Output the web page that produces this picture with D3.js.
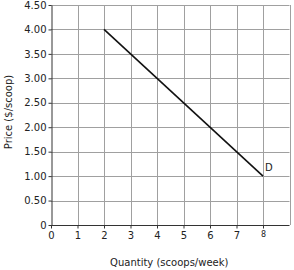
<!DOCTYPE html>
<html>
<head>
<meta charset="utf-8">
<script src="https://cdn.jsdelivr.net/npm/d3@7"></script>
<style>
body { margin: 0; background: #fff; }
text { font-family: "DejaVu Sans", sans-serif; fill: #222; }
.grid line { stroke: #a0a0a0; stroke-width: 1; }
.axis path, .axis line { stroke: #333; }
</style>
</head>
<body>
<div id="chart"></div>
<script>
// demand curve D
var qty = [2, 8];
var price = [4, 1];
var xTicks = [0, 1, 2, 3, 4, 5, 6, 7, 8];
var yTicks = [0, 0.5, 1, 1.5, 2, 2.5, 3, 3.5, 4, 4.5];
var yLabels = ["0", "0.50", "1.00", "1.50", "2.00", "2.50", "3.00", "3.50", "4.00", "4.50"];

var width = 294, height = 270;
var margin = {left: 51, top: 5, right: 5, bottom: 45};

var svg = d3.select("#chart").append("svg")
    .attr("width", width)
    .attr("height", height);

var x = d3.scaleLinear().domain([0, 9]).range([margin.left, width - margin.right + 0.5]);
var y = d3.scaleLinear().domain([0, 4.5]).range([height - margin.bottom, margin.top]);

var grid = svg.append("g").attr("class", "grid");
grid.selectAll("line.v")
    .data(d3.range(1, 10))
    .enter().append("line")
    .attr("class", "v")
    .attr("x1", function(d) { return Math.round(x(d)) + 0.5; })
    .attr("x2", function(d) { return Math.round(x(d)) + 0.5; })
    .attr("y1", y(0))
    .attr("y2", y(4.5));
grid.selectAll("line.h")
    .data(yTicks.slice(1))
    .enter().append("line")
    .attr("class", "h")
    .attr("y1", function(d) { return Math.round(y(d)) + 0.5; })
    .attr("y2", function(d) { return Math.round(y(d)) + 0.5; })
    .attr("x1", x(0))
    .attr("x2", x(9));

// y axis
var yAxis = svg.append("g")
    .attr("class", "axis")
    .attr("transform", "translate(" + (Math.round(x(0)) + 0.5) + ",0)")
    .call(d3.axisLeft(y).tickValues(yTicks).tickSize(3).tickSizeOuter(0)
        .tickFormat(function(d, i) { return yLabels[i]; }));
yAxis.selectAll("text").attr("font-size", 10).attr("x", -5);

// x axis
var xAxis = svg.append("g")
    .attr("class", "axis")
    .attr("transform", "translate(0," + (Math.round(y(0)) + 0.5) + ")")
    .call(d3.axisBottom(x).tickValues(xTicks).tickSize(3).tickSizeOuter(0)
        .tickFormat(d3.format("d")));
xAxis.select(".domain").attr("d", "M" + x(0) + ",0H" + x(9));
xAxis.selectAll("text").attr("font-size", function(d) { return d == 8 ? 8 : 10; })
    .attr("y", 6);

svg.selectAll(".axis text").attr("font-family", "DejaVu Sans, sans-serif").attr("fill", "#222");

// demand line
svg.append("line")
    .attr("x1", x(qty[0])).attr("y1", y(price[0]))
    .attr("x2", x(qty[1])).attr("y2", y(price[1]))
    .attr("stroke", "#111")
    .attr("stroke-width", 1.6);

svg.append("text")
    .attr("x", x(qty[1]) + 2)
    .attr("y", y(price[1]) - 5)
    .attr("font-size", 10)
    .text("D");

// axis titles
svg.append("text")
    .attr("x", (x(0) + x(9)) / 2 - 1)
    .attr("y", 266)
    .attr("text-anchor", "middle")
    .attr("font-size", 10)
    .text("Quantity (scoops/week)");

svg.append("text")
    .attr("transform", "translate(12,112) rotate(-90)")
    .attr("text-anchor", "middle")
    .attr("font-size", 10)
    .text("Price ($/scoop)");
</script>
</body>
</html>
